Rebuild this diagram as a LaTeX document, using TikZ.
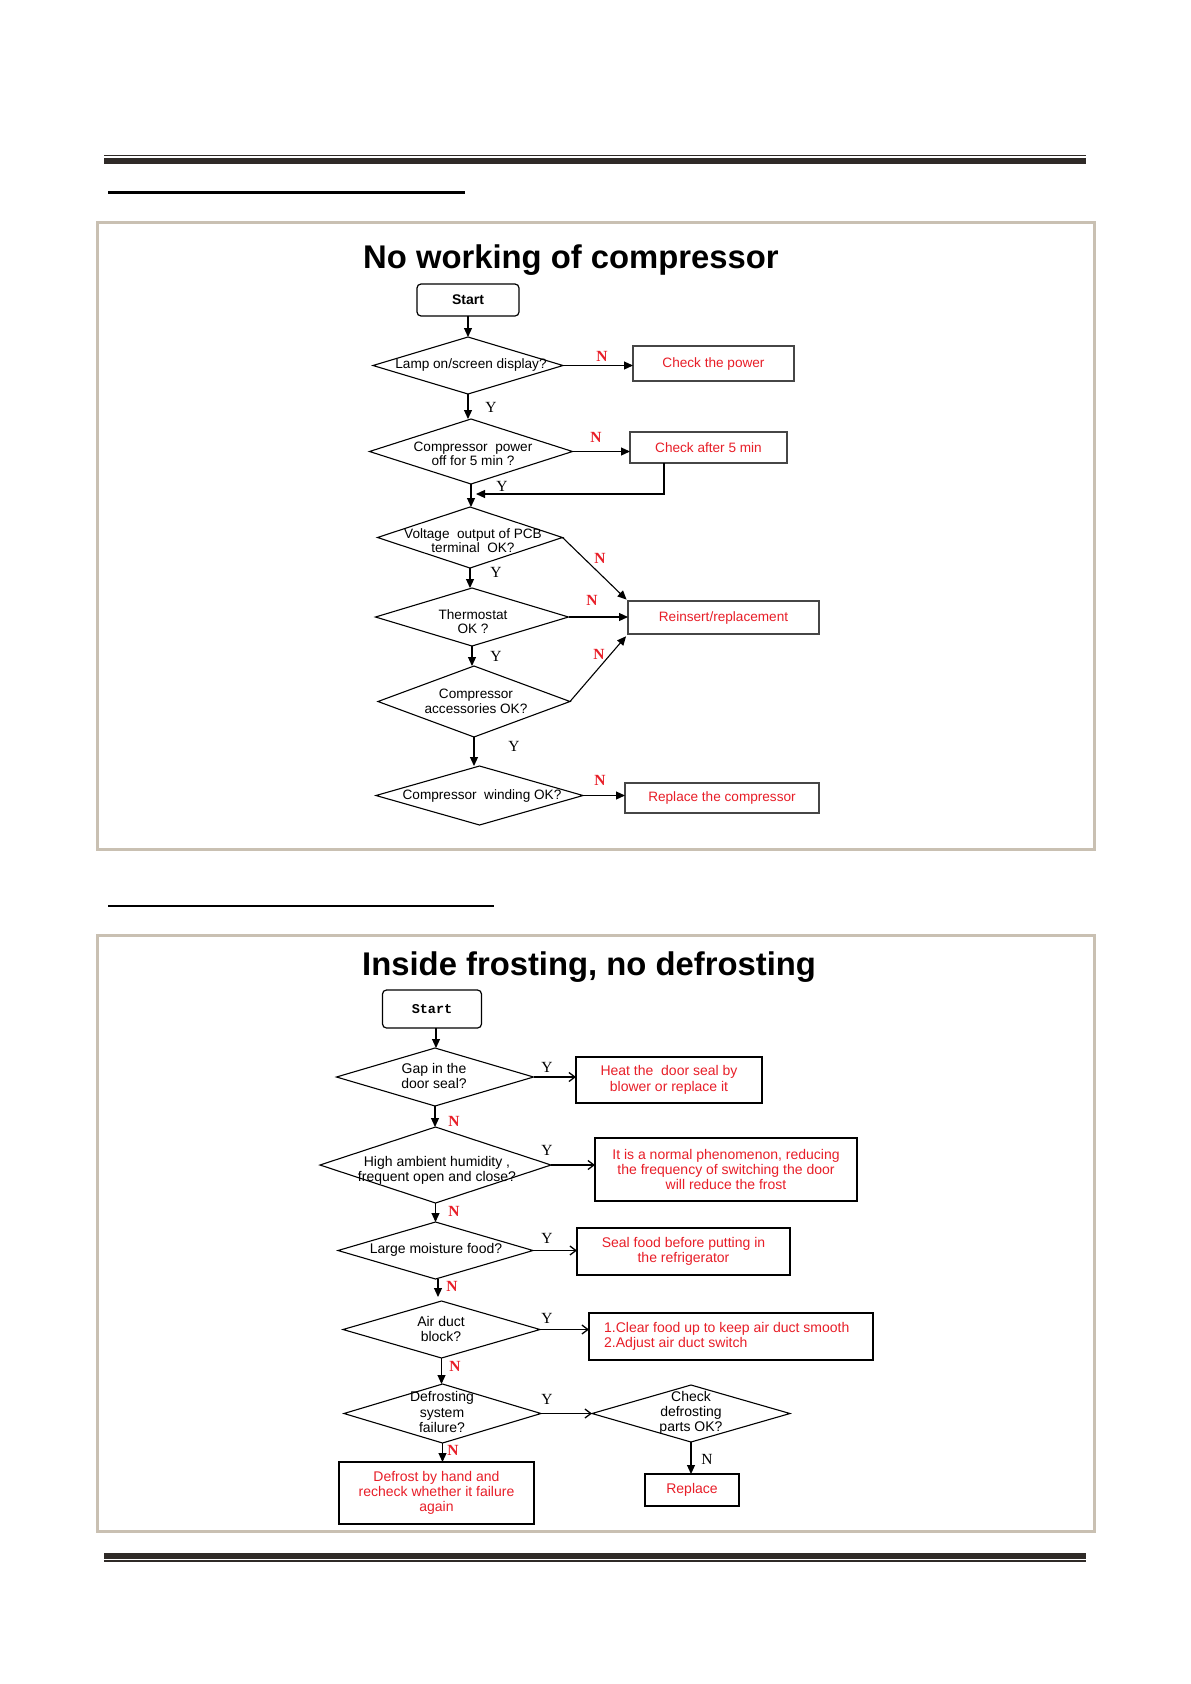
\documentclass[tikz,border=0pt]{standalone}
\usepackage{fontspec}
\setmainfont{Liberation Sans}
\newfontfamily\ynfont{Liberation Serif}
\newfontfamily\monofnt{Liberation Mono}
\usetikzlibrary{shapes.geometric,arrows.meta}
\definecolor{framec}{RGB}{201,192,178}
\definecolor{rulec}{RGB}{47,42,39}
\definecolor{redtxt}{RGB}{232,30,40}
\definecolor{boxc}{RGB}{70,70,70}
\tikzset{
  dia/.style={diamond,draw=black,line width=1.1pt,inner sep=0pt,outer sep=0pt},
  ttl/.style={anchor=base west,inner sep=0pt,font=\fontsize{32.8}{36}\selectfont\bfseries},
  tone/.style={inner sep=0pt,align=center,font=\fontsize{13.6}{14.5}\selectfont},
  ttwo/.style={inner sep=0pt,align=center,font=\fontsize{14}{15.3}\selectfont},
  rbox/.style={draw=boxc,line width=1.6pt,inner sep=0pt,outer sep=0pt,text=redtxt,align=center,font=\fontsize{13.6}{14.5}\selectfont},
  rboxb/.style={draw=black,line width=1.2pt,inner sep=0pt,outer sep=0pt,text=redtxt,align=center,font=\fontsize{14}{15.3}\selectfont},
  startbox/.style={draw=black,line width=1.2pt,rounded corners=4pt,inner sep=0pt,outer sep=0pt},
  arr/.style={line width=1.1pt,-{Triangle[length=9pt,width=8pt]}},
  arrb/.style={line width=1.1pt,-{Straight Barb[length=6pt,width=9pt,line width=1.3pt]}},
  nlab/.style={inner sep=0pt,text=redtxt,font=\ynfont\bfseries\fontsize{15.5}{15.5}\selectfont},
  ylab/.style={inner sep=0pt,font=\ynfont\fontsize{15.5}{15.5}\selectfont},
}
\begin{document}
\begin{tikzpicture}[x=1pt,y=-1pt]
\useasboundingbox (0,0) rectangle (1191,1684);
\fill[white] (0,0) rectangle (1191,1684);
% header and footer rules
\draw[rulec,line width=1.5pt] (104,155.5) -- (1086,155.5);
\draw[rulec,line width=5.7pt] (104,161.2) -- (1086,161.2);
\draw[rulec,line width=6pt] (104,1556) -- (1086,1556);
\draw[rulec,line width=1.8pt] (104,1561.3) -- (1086,1561.3);
% underlines
\draw[black,line width=3pt] (108,192.5) -- (465,192.5);
\draw[black,line width=2.2pt] (108,905.7) -- (494,905.7);
% frames
\draw[framec,line width=3pt] (97,222) rectangle (1094,849);
\draw[framec,line width=3pt] (97,935) rectangle (1094,1531);

%%%%%%%%%%%% Chart 1
\node[ttl] (t1) at (363,268) {No working of compressor};
\node[startbox,minimum width=102,minimum height=32,font=\fontsize{14}{14}\selectfont\bfseries] (s1) at (468,300) {Start};
\node[dia,minimum width=190,minimum height=57] (d1) at (468,365.5) {};
\node[tone] at (471,365) {Lamp on/screen display?};
\node[rbox,minimum width=161,minimum height=35] (b1) at (713.5,363.5) {Check the power};
\node[dia,minimum width=203,minimum height=65] (d2) at (471,451.5) {};
\node[tone] at (473,454) {Compressor\ \ power\\off for 5 min ?};
\node[rbox,minimum width=157,minimum height=31] (b2) at (708.5,447.5) {Check after 5 min};
\node[dia,minimum width=185,minimum height=61] (d3) at (470,537.5) {};
\node[tone] at (473,540.5) {Voltage\ \ output of PCB\\terminal\ \ OK?};
\node[dia,minimum width=193,minimum height=58] (d4) at (472,617) {};
\node[tone] at (473,621.5) {Thermostat\\OK ?};
\node[rbox,minimum width=191,minimum height=33] (r1) at (723.5,617.5) {Reinsert/replacement};
\node[dia,minimum width=192,minimum height=71] (d5) at (474,701.5) {};
\node[tone] at (476,701.5) {Compressor\\accessories OK?};
\node[dia,minimum width=207,minimum height=59] (d6) at (479.5,795.5) {};
\node[tone] at (482,795.5) {Compressor\ \ winding OK?};
\node[rbox,minimum width=194,minimum height=30] (b6) at (722,798) {Replace the compressor};
\coordinate (j1) at (473,494);

\draw[arr] (s1.south) -- (s1.south |- d1.north);
\draw[arr] (d1.east) -- (d1.east -| b1.west);
\draw[arr] (d1.south) -- (d1.south |- d2.north);
\draw[arr] (d2.east) -- (d2.east -| b2.west);
\draw[arr] ([xshift=-44.5pt]b2.south) |- ([xshift=3pt]j1);
\draw[arr] (d2.south) -- (d2.south |- d3.north);
\draw[arr,shorten >=2pt] (d3.east) -- (r1.north west);
\draw[arr] (d3.south) -- (d3.south |- d4.north);
\draw[arr] (d4.east) -- (d4.east -| r1.west);
\draw[arr,shorten >=3pt] (d5.east) -- (r1.south west);
\draw[arr] (d4.south) -- (d4.south |- d5.north);
\draw[arr] (d5.south) -- (d5.south |- d6.north);
\draw[arr] (d6.east) -- (d6.east -| b6.west);

\node[nlab] (n1) at (602,356) {N};
\node[ylab] (y1) at (491,407) {Y};
\node[nlab] (n2) at (596,437) {N};
\node[ylab] (y2) at (502,486) {Y};
\node[nlab] (n3) at (600,558) {N};
\node[ylab] (y3) at (496,572) {Y};
\node[nlab] (n4) at (592,600) {N};
\node[ylab] (y4) at (496,656) {Y};
\node[nlab] (n5) at (599,654) {N};
\node[ylab] (y5) at (514,746) {Y};
\node[nlab] (n6) at (600,780) {N};

%%%%%%%%%%%% Chart 2
\node[ttl] (t2) at (362,975) {Inside frosting, no defrosting};
\node[startbox,minimum width=99,minimum height=38,font=\monofnt\bfseries\fontsize{13.5}{14}\selectfont] (s2) at (432,1009) {Start};
\node[dia,minimum width=197,minimum height=58] (dA) at (435,1077) {};
\node[ttwo] at (434,1076) {Gap in the\\door seal?};
\node[rboxb,minimum width=186,minimum height=46] (bA) at (669,1080) {Heat the\ \ door seal by\\blower or replace it};
\node[dia,minimum width=231,minimum height=76] (dB) at (435.5,1165) {};
\node[ttwo] at (437,1170.5) {High ambient humidity ,\\frequent open and close?};
\node[rboxb,minimum width=262,minimum height=63] (bB) at (726,1169.5) {It is a normal phenomenon, reducing\\the frequency of switching the door\\will reduce the frost};
\node[dia,minimum width=195,minimum height=57] (dC) at (435.5,1250.5) {};
\node[ttwo] at (436,1250) {Large moisture food?};
\node[rboxb,minimum width=213,minimum height=47] (bC) at (683.5,1251.5) {Seal food before putting in\\the refrigerator};
\node[dia,minimum width=197,minimum height=57] (dD) at (441.5,1329.5) {};
\node[ttwo] at (441,1329) {Air duct\\block?};
\node[rboxb,minimum width=284,minimum height=47] (bD) at (731,1336.5) {};
\node[ttwo,text=redtxt,align=left,anchor=west] at (604,1336.5) {1.Clear food up to keep air duct smooth\\2.Adjust air duct switch};
\node[dia,minimum width=197,minimum height=59] (dE) at (442.5,1413.5) {};
\node[ttwo] at (442,1412) {Defrosting\\system\\failure?};
\node[dia,minimum width=198,minimum height=57] (dF) at (691,1413.5) {};
\node[ttwo] at (691,1413) {Check\\defrosting\\parts OK?};
\node[rboxb,minimum width=195,minimum height=62] (bE) at (436.5,1493) {Defrost by hand and\\recheck whether it failure\\again};
\node[rboxb,minimum width=94,minimum height=32] (bF) at (692,1490) {Replace};

\draw[arr] (s2.south -| 436,0) -- (436,1048);
\draw[arrb] (dA.east) -- (dA.east -| bA.west);
\draw[arr] (dA.south) -- (dA.south |- dB.north);
\draw[arrb] (dB.east) -- (dB.east -| bB.west);
\draw[arr] (dB.south) -- (dB.south |- dC.north);
\draw[arrb] (dC.east) -- (dC.east -| bC.west);
\draw[arr] (438,1279) -- (438,1297);
\draw[arrb] (dD.east) -- (dD.east -| bD.west);
\draw[arr] (dD.south) -- (dD.south |- dE.north);
\draw[arrb] (dE.east) -- (dE.east -| dF.west);
\draw[arr] (dE.south) -- (dE.south |- bE.north);
\draw[arr] (dF.south) -- (dF.south |- bF.north);

\node[ylab] (ya) at (547,1067) {Y};
\node[nlab] (na) at (454,1121) {N};
\node[ylab] (yb) at (547,1150) {Y};
\node[nlab] (nb) at (454,1211) {N};
\node[ylab] (yc) at (547,1238) {Y};
\node[nlab] (nc) at (452,1286) {N};
\node[ylab] (yd) at (547,1318) {Y};
\node[nlab] (nd) at (455,1366) {N};
\node[ylab] (ye) at (547,1399) {Y};
\node[nlab] (ne) at (453,1450) {N};
\node[ylab] (nf) at (707,1459) {N};
\end{tikzpicture}
\end{document}
